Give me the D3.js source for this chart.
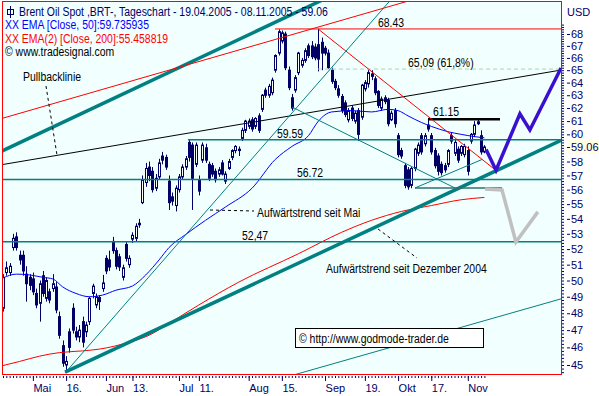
<!DOCTYPE html>
<html>
<head>
<meta charset="utf-8">
<script src="https://cdnjs.cloudflare.com/ajax/libs/d3/7.8.5/d3.min.js"></script>
<style>
  body { margin: 0; background: #fff; }
  svg { display: block; font-family: "Liberation Sans", Arial, sans-serif; font-size: 12px; }
</style>
</head>
<body>
<svg id="chart" width="599" height="396"></svg>
<script>
// Tageskerzen, Index 0 = 19.04.2005 ... 145 = 08.11.2005
const opens = [48.3,50.5,50.5,52.1,52.8,51.6,51.6,50.4,50.2,50.1,49.2,48.6,50.3,48.9,49.3,49.5,49.6,47.8,46.1,45.0,
  46.9,48.3,46.9,46.6,47.5,46.9,47.5,49.2,48.5,48.95,49.5,51.4,51.3,52.5,51.9,51.5,50.2,52.3,51.0,52.65,
  52.7,53.6,55.1,56.5,57.6,57.3,56.1,56.9,58.4,58.3,56.6,55.5,54.9,56.0,56.9,57.6,59.4,59.2,57.8,56.7,
  58.1,59.0,57.8,57.7,57.3,57.1,57.9,56.6,57.5,58.3,58.8,58.8,59.7,60.3,60.6,61.1,60.6,61.4,61.9,63.4,
  63.0,63.2,65.0,66.4,67.4,68.0,65.0,62.8,63.4,64.8,65.4,65.8,67.0,67.0,66.9,67.1,67.3,66.8,66.4,65.0,
  64.1,63.5,62.9,62.4,61.1,62.0,61.0,61.8,61.3,63.5,63.9,64.7,64.3,63.3,62.0,62.8,62.6,61.1,61.8,59.9,
  58.8,57.7,57.4,56.3,57.5,58.6,59.9,59.3,60.7,59.9,58.8,58.4,57.8,57.7,57.8,59.9,58.6,58.9,58.6,58.5,
  58.8,59.5,60.0,60.8,59.9,58.7];
const highs = [50.4,51.2,51.1,53.0,53.1,51.9,51.9,50.9,50.4,50.5,49.5,50.0,50.6,50.2,49.5,50.4,49.9,48.1,46.4,45.5,
  47.1,48.6,47.2,47.3,47.8,47.5,49.0,49.8,49.2,49.1,50.35,51.6,51.9,52.8,52.1,51.7,51.0,52.5,51.6,53.1,
  53.7,54.0,57.0,57.9,58.0,57.6,57.1,58.2,58.7,58.5,57.0,55.8,56.3,57.1,57.8,58.4,59.6,59.4,59.4,57.0,
  59.4,59.3,58.0,57.9,57.5,57.6,58.1,57.3,58.2,58.9,59.2,59.1,60.5,61.1,61.2,61.3,61.3,61.6,63.1,63.6,
  63.9,64.4,66.3,68.4,68.3,68.2,65.3,63.1,64.6,66.5,66.0,66.8,67.2,67.4,67.2,68.43,67.7,67.0,66.7,65.2,
  64.3,63.8,63.1,62.6,62.0,62.2,61.8,62.0,63.9,64.2,65.0,65.0,64.5,63.4,62.9,63.0,62.8,61.8,62.0,60.1,
  59.0,57.9,57.6,57.6,59.0,59.4,60.1,60.1,61.15,60.1,59.0,58.6,58.0,57.9,58.9,60.1,59.6,59.1,59.2,59.3,
  59.1,60.1,61.0,61.1,60.3,59.2];
const lows = [48.1,50.3,50.3,51.9,51.9,51.0,50.3,48.7,49.4,49.1,48.3,47.5,49.0,48.7,48.6,49.3,48.0,46.5,44.9,44.6,
  45.7,46.8,46.4,46.3,46.0,46.6,47.3,48.9,48.3,48.2,49.3,50.4,50.6,51.7,50.7,50.6,50.0,51.2,50.8,52.4,
  52.5,53.4,55.0,56.2,56.6,55.8,55.9,56.7,57.8,57.4,54.6,54.9,54.5,55.8,56.7,57.4,58.0,54.6,57.6,55.6,
  57.9,57.9,56.6,56.9,56.5,56.9,57.0,56.4,57.4,58.1,58.6,58.4,59.5,60.1,60.4,60.2,60.4,60.1,61.7,62.8,
  62.8,63.0,64.8,66.2,67.2,65.0,63.4,61.8,63.2,64.6,65.2,65.6,66.0,65.9,65.8,64.9,65.0,66.2,65.1,63.9,
  63.4,62.8,61.6,61.3,60.9,61.0,60.8,59.5,61.1,63.3,63.6,64.2,63.0,62.0,61.8,62.3,60.6,61.0,60.5,58.3,
  58.2,56.1,56.0,56.1,57.3,58.4,58.5,59.1,60.2,58.5,57.5,57.0,57.0,57.2,57.6,59.3,58.4,57.9,58.4,58.3,
  57.0,59.3,59.8,60.7,58.5,58.6];
const closes = [50.2,50.8,50.9,52.7,52.1,51.3,50.6,49.8,49.7,49.3,48.5,49.8,49.2,50.0,48.8,49.8,48.2,46.7,45.1,45.2,
  46.0,47.0,46.6,47.0,46.3,47.3,48.9,49.65,49.0,48.7,49.85,50.6,50.85,51.9,50.9,50.85,50.8,51.4,51.4,52.9,
  53.5,53.7,56.7,57.5,57.0,56.0,56.8,57.9,58.1,57.6,55.1,55.2,56.1,56.9,57.6,58.2,58.3,56.8,59.2,55.9,
  59.2,58.1,56.8,57.1,56.7,57.4,57.1,57.1,58.0,58.8,59.1,58.9,60.3,61.0,61.0,60.4,61.2,60.3,63.0,63.0,
  63.7,64.2,66.2,68.2,68.1,65.2,63.6,62.0,64.4,66.4,65.8,66.6,66.2,66.1,66.0,65.9,66.4,66.4,65.2,64.1,
  63.6,63.0,61.8,61.5,61.8,61.2,61.6,60.0,63.8,64.0,64.8,64.5,63.2,62.2,62.7,62.5,60.8,61.6,60.8,58.5,
  58.4,56.3,56.2,57.5,58.9,59.2,58.7,59.9,60.4,58.7,57.7,57.3,57.2,57.4,58.8,59.5,59.4,58.1,59.1,59.1,
  57.3,60.0,60.7,60.95,58.7,59.06];

// gleitende Durchschnitte
const ema50Idx = [0,4,8,12,15,18,22,26,30,34,39,43,47,50,55,61,67,75,82,87,92,95,99,105,111,116,119,122,126,129,134,138,142,145];
const ema50Val = [50.16,50.4,50.35,50.2,50.1,49.6,49.2,49.0,49.1,49.4,49.66,50.35,51.3,52.1,52.95,53.9,54.8,56.1,58.15,59.1,
  59.9,61.0,61.7,61.8,61.7,61.9,61.8,61.4,60.9,60.6,60.2,60.0,59.83,59.74];
const ema200Idx = [0,5,11,17,24,29,38,44,50,59,71,89,102,111,120,129,138,145];
const ema200Val = [44.97,45.2,45.5,45.7,45.8,45.9,46.3,46.7,47.4,48.5,49.9,51.7,53.1,53.9,54.5,54.9,55.3,55.46];

// Achsen
const dateTickIdx = [9,19,31,39,53,59,74,84,97,109,119,129,140];
const dateTickLabels = ["Mai","16.","Jun","13.","Jul","11.","Aug","15.","Sep","19.","Okt","17.","Nov"];
const priceTicks = [45,46,47,48,49,50,51,52,53,54,55,56,57,58,60,61,62,63,64,65,66,67,68];
const lastClose = 59.06;

// Horizontale Marken
const levelValues = [68.43, 65.09, 61.15, 59.59, 56.72, 52.47];
const levelLabels = ["68.43", "65,09 (61,8%)", "61.15", "59.59", "56.72", "52,47"];

// Trendlinien (Index, Kurs)
const trendStart = [[18.7,44.6],[-0.9,58.7],[-0.9,61.16],[88.25,44.48],[-0.9,57.75],[18.7,44.56],[94.9,68.43],[87.05,62.08],[124.1,56.12],[124.1,56.12]];
const trendEnd   = [[168.1,59.55],[95.9,70.9],[122.6,70.9],[168.1,48.87],[168.1,65.01],[116.6,70.9],[148.8,57.3],[136.1,56.12],[144.3,58.15],[150.3,56.12]];

// Szenarien
const bluePath = [[145.5,58.87],[148.5,57.37],[155.7,61.55],[158.7,60.33],[168.1,65.18]];
const grayPath = [[145.2,56.05],[150.3,55.98],[154.5,52.46],[161.1,54.47]];

const NAVY = "#000066", TEAL = "#008080";
const pL = 2, pT = 2, pR = 561, pB = 374;

const svg = d3.select("#chart");

const x = d3.scaleLinear().domain([0, 145]).range([3, 3 + 145 * 3.32]);
const y = d3.scaleLog().domain([45, 68]).range([365, 34]);
const edgeL = x.invert(pL), edgeR = x.invert(pR);

svg.append("rect")
  .attr("x", pL).attr("y", pT)
  .attr("width", pR - pL).attr("height", pB - pT)
  .attr("fill", "#F2FFFF");

svg.append("defs").append("clipPath").attr("id", "clip")
  .append("rect")
  .attr("x", pL).attr("y", pT)
  .attr("width", pR - pL).attr("height", pB - pT);

const plot = svg.append("g").attr("clip-path", "url(#clip)");

// Kerzen
const idx = d3.range(opens.length);
const candle = plot.append("g").selectAll("g").data(idx).join("g");
candle.append("line")
  .attr("x1", (i) => Math.round(x(i)) + 0.5)
  .attr("x2", (i) => Math.round(x(i)) + 0.5)
  .attr("y1", (i) => y(highs[i]))
  .attr("y2", (i) => y(lows[i]))
  .attr("stroke", NAVY);
candle.append("rect")
  .attr("x", (i) => Math.round(x(i)) - 0.5)
  .attr("width", 2)
  .attr("y", (i) => y(Math.max(opens[i], closes[i])))
  .attr("height", (i) => Math.max(1, Math.abs(y(opens[i]) - y(closes[i]))))
  .attr("fill", (i) => (closes[i] >= opens[i] ? "#fff" : NAVY))
  .attr("stroke", NAVY);

// EMAs
const emaLine = d3.line().x((d) => x(d[0])).y((d) => y(d[1])).curve(d3.curveMonotoneX);
plot.append("path")
  .attr("d", emaLine(ema200Idx.map((d, i) => [d, ema200Val[i]])))
  .attr("fill", "none").attr("stroke", "#ff0000");
plot.append("path")
  .attr("d", emaLine(ema50Idx.map((d, i) => [d, ema50Val[i]])))
  .attr("fill", "none").attr("stroke", "#0000ff");

// Horizontale Linien
const levelFrom = [81.9, 94.9, 128, 55.7, edgeL, edgeL];
const levelTo = [edgeR, edgeR, 149.7, edgeR, edgeR, edgeR];
const levelColor = ["#ff0000", "#a8d4a8", "#000", TEAL, TEAL, TEAL];
const levelWidth = [1, 1, 2.5, 1.5, 1.5, 1.5];
const levelLabelAt = [112.95, 122, 129.5, 82.5, 88.55, 72];

levelValues.forEach((v, k) => {
  plot.append("line")
    .attr("x1", x(levelFrom[k])).attr("x2", x(levelTo[k]))
    .attr("y1", y(v)).attr("y2", y(v))
    .attr("stroke", levelColor[k])
    .attr("stroke-width", levelWidth[k])
    .attr("stroke-dasharray", k === 1 ? "4,3" : null);
  plot.append("text")
    .attr("class", "narrow")
    .attr("x", x(levelLabelAt[k]))
    .attr("y", y(v) - (k === 2 ? 3 : 2))
    .attr("fill", "#000")
    .text(levelLabels[k]);
});

// Trendlinien
const trendColor = [TEAL, TEAL, "#ff0000", TEAL, "#000", TEAL, "#ff0000", TEAL, TEAL, "#2f6f6f"];
const trendWidth = [3.5, 3.5, 1, 1, 1, 1, 1, 1, 1, 1.5];
trendStart.forEach((a, k) => {
  const b = trendEnd[k];
  plot.append("line")
    .attr("x1", x(a[0])).attr("y1", y(a[1]))
    .attr("x2", x(b[0])).attr("y2", y(b[1]))
    .attr("stroke", trendColor[k])
    .attr("stroke-width", trendWidth[k]);
});

// Szenarien
const scen = d3.line().x((d) => x(d[0])).y((d) => y(d[1]));
plot.append("path").attr("d", scen(grayPath))
  .attr("fill", "none").attr("stroke", "#c0c0c0").attr("stroke-width", 3.5);
plot.append("path").attr("d", scen(bluePath))
  .attr("fill", "none").attr("stroke", "#3a10d0").attr("stroke-width", 3.5)
  .attr("stroke-linejoin", "miter");

// Beschriftungen
const notes = svg.append("g");
function pointer(x1, y1, x2, y2) {
  notes.append("line")
    .attr("x1", x1).attr("y1", y1).attr("x2", x2).attr("y2", y2)
    .attr("stroke", "#000").attr("stroke-dasharray", "3,3");
}
function note(px, py, s) {
  notes.append("text").attr("class", "narrow").attr("x", px).attr("y", py).text(s);
}
pointer(46, 86, 57, 155);
note(23, 81, "Pullbacklinie");
pointer(210, 210, 254, 211);
note(257, 217, "Aufwärtstrend seit Mai");
pointer(378, 229, 417, 258);
note(326, 273, "Aufwärtstrend seit Dezember 2004");

notes.append("rect")
  .attr("x", 295.5).attr("y", 328.5).attr("width", 188).attr("height", 19)
  .attr("fill", "#fff").attr("stroke", "#000");
note(299, 343, "© http://www.godmode-trader.de");

// Legende
const leg = svg.append("g");
leg.append("rect").attr("x", 7.5).attr("y", 9.5).attr("width", 6).attr("height", 5)
  .attr("fill", "none").attr("stroke", NAVY);
leg.append("line").attr("x1", 10.5).attr("x2", 10.5).attr("y1", 6).attr("y2", 18).attr("stroke", NAVY);
const legLines = [
  [19, 16, NAVY, "Brent Oil Spot ,BRT-, Tageschart - 19.04.2005 - 08.11.2005 - 59.06"],
  [5, 29, "#0000ff", "XX EMA [Close, 50]:59.735935"],
  [5, 43, "#ff0000", "XX EMA(2) [Close, 200]:55.458819"],
  [5, 56, "#000", "© www.tradesignal.com"],
];
legLines.forEach((l) => {
  leg.append("text").attr("class", "narrow")
    .attr("x", l[0]).attr("y", l[1]).attr("fill", l[2]).text(l[3]);
});

// Rahmen
svg.append("rect")
  .attr("x", pL + 0.5).attr("y", pT - 0.5)
  .attr("width", pR - pL).attr("height", pB - pT + 1)
  .attr("fill", "none").attr("stroke", "#ff0000");

// Preisachse
const yMinor = svg.append("g").attr("transform", `translate(${pR + 1},0)`)
  .call(d3.axisRight(y).tickValues(d3.range(44.6, 69, 0.2)).tickSize(2).tickFormat(""));
yMinor.select(".domain").remove();
yMinor.selectAll("line").attr("stroke", NAVY);

const yMajor = svg.append("g").attr("transform", `translate(${pR + 1},0)`)
  .call(d3.axisRight(y).tickValues(priceTicks).tickSize(8).tickFormat(d3.format("d")));
yMajor.select(".domain").remove();
yMajor.selectAll("line").attr("x1", 5).attr("stroke", NAVY);
yMajor.selectAll("text").attr("x", 9).attr("fill", NAVY)
  .style("font-size", "11px").style("font-family", "Liberation Sans, Arial, sans-serif");

svg.append("rect")
  .attr("x", 567).attr("y", y(lastClose) - 7)
  .attr("width", 32).attr("height", 14)
  .attr("fill", "#ffffe6");
svg.append("line")
  .attr("x1", pR + 6).attr("x2", pR + 9)
  .attr("y1", Math.round(y(lastClose)) + 0.5).attr("y2", Math.round(y(lastClose)) + 0.5)
  .attr("stroke", NAVY);
svg.append("text")
  .attr("x", 571).attr("y", y(lastClose) + 4)
  .style("font-size", "11px")
  .attr("fill", NAVY).text(d3.format(".2f")(lastClose));
svg.append("text").attr("x", 567).attr("y", 16)
  .style("font-size", "11px").attr("fill", NAVY).text("USD");

// Zeitachse
const xMinor = svg.append("g").attr("transform", `translate(0,${pB + 2})`)
  .call(d3.axisBottom(x).tickValues(idx).tickSize(2).tickFormat(""));
xMinor.select(".domain").remove();
xMinor.selectAll("line").attr("stroke", NAVY);

const xMajor = svg.append("g").attr("transform", `translate(0,${pB + 2})`)
  .call(d3.axisBottom(x).tickValues(dateTickIdx).tickSize(5)
    .tickFormat((d, i) => dateTickLabels[i]));
xMajor.select(".domain").remove();
xMajor.selectAll("line").attr("stroke", NAVY);
xMajor.selectAll("text")
  .attr("y", 16).attr("dy", 0).attr("x", 0)
  .attr("fill", NAVY)
  .style("text-anchor", "start")
  .style("font-size", "11px").style("font-family", "Liberation Sans, Arial, sans-serif");

// schmale Schrift wie im Original
svg.selectAll("text.narrow").each(function () {
  const w = this.getComputedTextLength();
  if (w > 0) {
    d3.select(this).attr("textLength", w * 0.87).attr("lengthAdjust", "spacingAndGlyphs");
  }
});
</script>
</body>
</html>
